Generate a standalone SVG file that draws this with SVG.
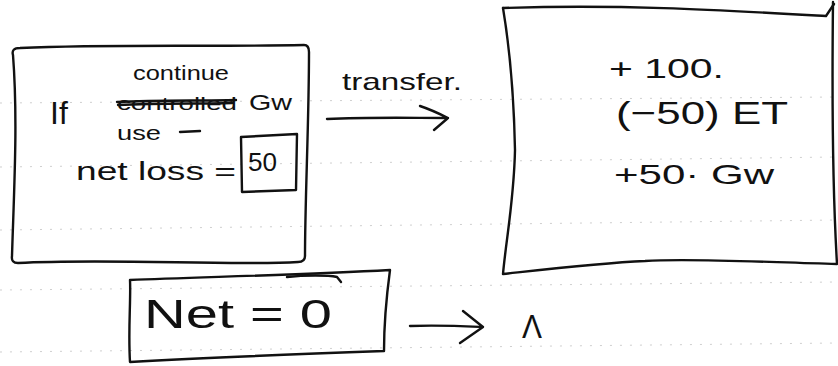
<svg xmlns="http://www.w3.org/2000/svg" width="838" height="366" viewBox="0 0 838 366">
<style>
.bg{fill:#ffffff}
.rule{stroke:#a0a0a0;stroke-width:1;stroke-dasharray:2 8;fill:none;opacity:0.5}
.ink{fill:none;stroke:#111;stroke-width:2.4;stroke-linecap:round;stroke-linejoin:round}
.hw{font-family:"Liberation Sans","DejaVu Sans",sans-serif;fill:#111}
</style>
<rect class="bg" x="0" y="0" width="838" height="366"/>
<g id="ruling">
<line class="rule" x1="0" y1="103" x2="838" y2="97"/>
<line class="rule" x1="0" y1="167" x2="838" y2="157"/>
<line class="rule" x1="0" y1="230" x2="838" y2="220"/>
<line class="rule" x1="0" y1="290" x2="838" y2="282"/>
<line class="rule" x1="0" y1="352" x2="838" y2="343"/>
</g>
<g id="left-box">
<path class="ink" d="M13,55 Q11,48 20,48 C110,44 210,47 304,45 Q309,45 309,52 C309,120 305,200 305,256 Q305,262 298,262 C230,266 110,258 18,263 Q11,263 12,256 C14,190 18,120 13,55 Z"/>
<text class="hw" x="133" y="80" font-size="20" textLength="96" lengthAdjust="spacingAndGlyphs">continue</text>
<text class="hw" x="50" y="124" font-size="32">If</text>
<text class="hw" x="117" y="110" font-size="18" textLength="120" lengthAdjust="spacingAndGlyphs">controlled</text>
<path class="ink" d="M117,102 C160,100 200,101 236,100 M118,105 C160,103 200,104 232,103" stroke-width="2.6"/>
<text class="hw" x="249" y="110" font-size="22" textLength="43" lengthAdjust="spacingAndGlyphs">Gw</text>
<text class="hw" x="117" y="140" font-size="20" textLength="44" lengthAdjust="spacingAndGlyphs">use</text>
<path class="ink" d="M180,132 L200,131" stroke-width="2"/>
<text class="hw" x="76" y="180" font-size="26" textLength="160" lengthAdjust="spacingAndGlyphs">net loss =</text>
<path class="ink" d="M241,137 L297,134 L296,190 L242,192 Z"/>
<text class="hw" x="248" y="171" font-size="25" textLength="29" lengthAdjust="spacingAndGlyphs">50</text>
</g>
<g id="right-box">
<path class="ink" d="M503,8 C620,4 720,10 826,16 L834,4"/>
<path class="ink" d="M833,2 C832,90 832,180 837,264 C760,262 690,258 645,261 C600,263 540,270 503,274 C506,240 514,200 515,150 C514,100 510,50 503,8"/>
<text class="hw" x="609" y="78" font-size="28" textLength="115" lengthAdjust="spacingAndGlyphs">+ 100.</text>
<text class="hw" x="616" y="124" font-size="32" textLength="172" lengthAdjust="spacingAndGlyphs">(−50) ET</text>
<text class="hw" x="614" y="184" font-size="28" textLength="160" lengthAdjust="spacingAndGlyphs">+50· Gw</text>
</g>
<g id="net-box">
<path class="ink" d="M130,280 C200,277 300,275 390,270 C386,300 384,330 384,351 C300,354 200,358 130,362 C128,330 131,300 130,280 Z"/>
<path class="ink" d="M287,277 C305,275 328,275 337,277 L341,282" stroke-width="1.6"/>
<text class="hw" x="144" y="328" font-size="40" textLength="188" lengthAdjust="spacingAndGlyphs">Net = 0</text>
</g>
<g id="mark">
<text class="hw" x="522" y="338" font-size="34" textLength="20" lengthAdjust="spacingAndGlyphs">Λ</text>
</g>
<g id="connectors">
<text class="hw" x="342" y="90" font-size="24" textLength="120" lengthAdjust="spacingAndGlyphs">transfer.</text>
<path class="ink" d="M327,119 C370,117 410,118 448,118 M420,106 C432,110 440,114 448,118 L434,130"/>
<path class="ink" d="M410,326 C440,325 460,326 483,327 M463,311 L483,327 L460,343"/>
</g>
</svg>
